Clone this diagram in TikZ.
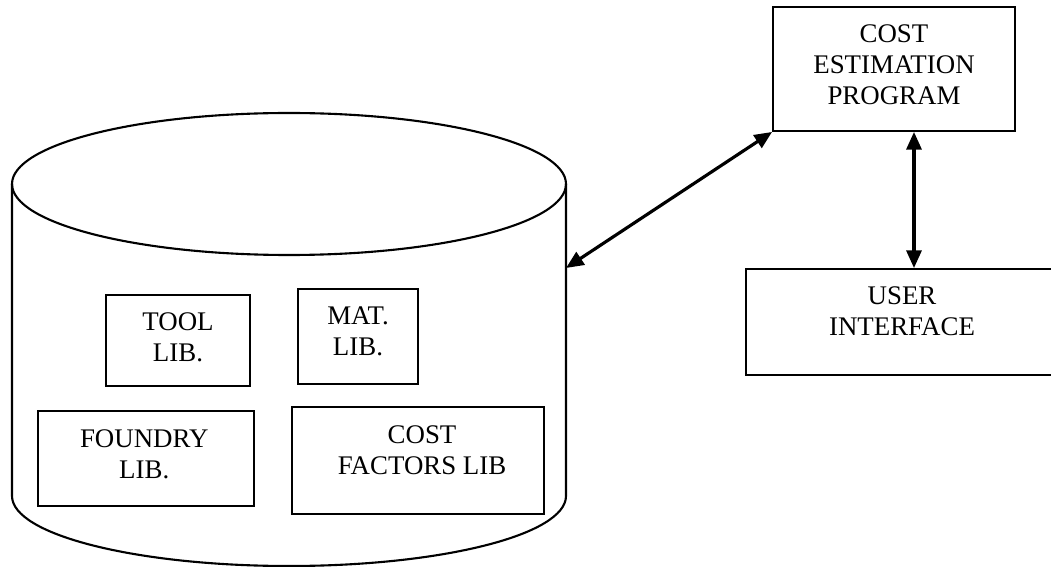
\documentclass[tikz,border=0pt]{standalone}
\usepackage{fontspec}
\setmainfont{Liberation Serif}
\usetikzlibrary{arrows.meta, positioning}

\begin{document}
\begin{tikzpicture}[
	x=0.02cm, y=-0.02cm,
	libbox/.style={draw, rectangle, line width=1.1pt, inner sep=0pt},
	libtext/.style={align=center, font=\fontsize{15.3}{17.6}\selectfont},
	dbline/.style={line width=1.2pt},
	link/.style={line width=1.8pt, {Triangle[length=10pt,width=8.5pt]}-{Triangle[length=10pt,width=8.5pt]}}
	]
	\useasboundingbox (0,0) rectangle (1051,567);
	
	% Database
	\draw[dbline] (12,184) -- (12,496) arc[start angle=180, end angle=0, x radius=277, y radius=70] -- (566,184);
	\draw[dbline] (289,184) ellipse[x radius=277, y radius=71];
	\coordinate (dbport) at (566,268);
	
	% Libraries
	\node[libbox, minimum width=2.88cm, minimum height=1.82cm, label={[libtext, name=tool-t, yshift=2pt]center:TOOL\\LIB.}] (tool) at (178,340.5) {};
	\node[libbox, minimum width=2.40cm, minimum height=1.90cm, label={[libtext, name=mat-t, yshift=3.1pt]center:MAT.\\LIB.}] (mat) at (358,336.5) {};
	\node[libbox, minimum width=4.32cm, minimum height=1.90cm, label={[libtext, name=foundry-t, yshift=2.6pt, xshift=-1pt]center:FOUNDRY\\LIB.}] (foundry) at (146,458.5) {};
	\node[libbox, minimum width=5.04cm, minimum height=2.14cm, label={[libtext, name=costf-t, yshift=6pt, xshift=2.3pt]center:COST\\FACTORS LIB}] (costf) at (418,460.5) {};
	
	% Program and interface
	\node[libbox, minimum width=4.84cm, minimum height=2.48cm, label={[libtext, name=cep-t, yshift=2.3pt]center:COST\\ESTIMATION\\PROGRAM}] (cep) at (894,69) {};
	\node[libbox, minimum width=6.24cm, minimum height=2.12cm, label={[libtext, name=ui-t, yshift=6pt]center:USER\\INTERFACE}] (ui) at (902,322) {};
	
	% Links
	\draw[link] (dbport) -- (cep.south west);
	\draw[link] ([xshift=0.4cm]cep.south) -- ([xshift=0.4cm]cep.south |- ui.north);
	
\end{tikzpicture}
\end{document}
